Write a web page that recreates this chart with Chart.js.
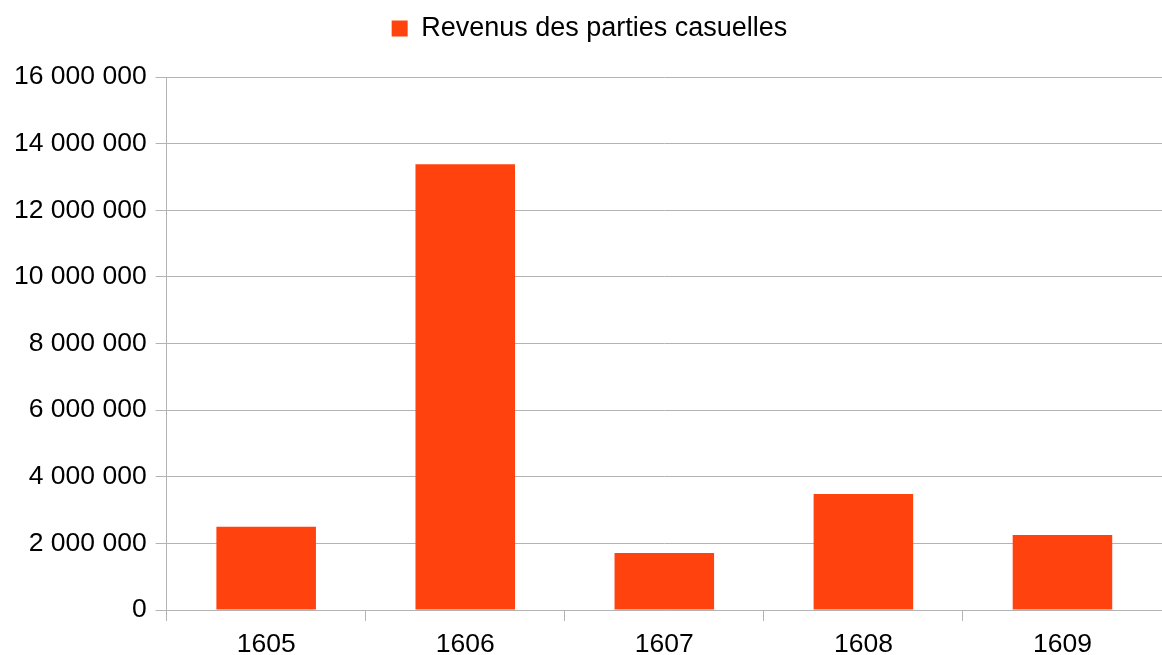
<!DOCTYPE html>
<html>
<head>
<meta charset="utf-8">
<script src="https://cdn.jsdelivr.net/npm/chart.js@4"></script>
<style>
html,body{margin:0;padding:0;background:#fff;}
#wrap{width:1162px;height:655px;}
</style>
</head>
<body>
<div id="wrap"><canvas id="c" width="1162" height="655"></canvas></div>
<script>
const categories = ['1605', '1606', '1607', '1608', '1609'];
const seriesName = 'Revenus des parties casuelles';
const revenus = [2500000, 13380000, 1710000, 3480000, 2250000];
const yTicks = [0, 2000000, 4000000, 6000000, 8000000, 10000000, 12000000, 14000000, 16000000];

function fmt(v) {
  return String(Math.round(v)).replace(/\B(?=(\d{3})+(?!\d))/g, ' ');
}

Chart.defaults.font.family = '"Liberation Sans", Arial, sans-serif';
Chart.defaults.color = '#000';

const legendMargin = {
  id: 'legendMargin',
  beforeInit(chart) {
    const origFit = chart.legend.fit;
    chart.legend.fit = function () {
      origFit.bind(chart.legend)();
      this.height += 25;
    };
  },
  afterLayout(chart) {
    chart.legend.left += 6;
    chart.legend.right += 6;
  }
};

new Chart(document.getElementById('c'), {
  type: 'bar',
  data: {
    labels: categories,
    datasets: [{
      label: seriesName,
      data: revenus,
      backgroundColor: '#ff420e',
      borderWidth: 0,
      barPercentage: 0.5,
      categoryPercentage: 1.0
    }]
  },
  options: {
    responsive: false,
    animation: false,
    devicePixelRatio: 1,
    layout: { padding: { left: 5, right: 0, top: 3, bottom: 0 } },
    plugins: {
      legend: {
        position: 'top',
        labels: {
          boxWidth: 16, boxHeight: 16, padding: 12,
          font: { size: 27 }, color: '#000'
        }
      },
      tooltip: { enabled: false }
    },
    scales: {
      x: {
        afterFit: (scale) => { scale.height = 45; },
        grid: {
          display: true, drawOnChartArea: false, drawTicks: true,
          tickLength: 11, color: '#b3b3b3', offset: true
        },
        border: { display: true, color: '#b3b3b3' },
        ticks: { font: { size: 26.5, lineHeight: 1 }, color: '#000', padding: 10 }
      },
      y: {
        min: 0, max: 16000000,
        afterBuildTicks: (axis) => { axis.ticks = yTicks.map(v => ({ value: v })); },
        grid: { color: '#b3b3b3', drawTicks: true, tickLength: 11 },
        border: { display: true, color: '#b3b3b3' },
        ticks: { font: { size: 26.5 }, color: '#000', padding: 9, callback: (v) => fmt(v) }
      }
    }
  },
  plugins: [legendMargin]
});
</script>
</body>
</html>
